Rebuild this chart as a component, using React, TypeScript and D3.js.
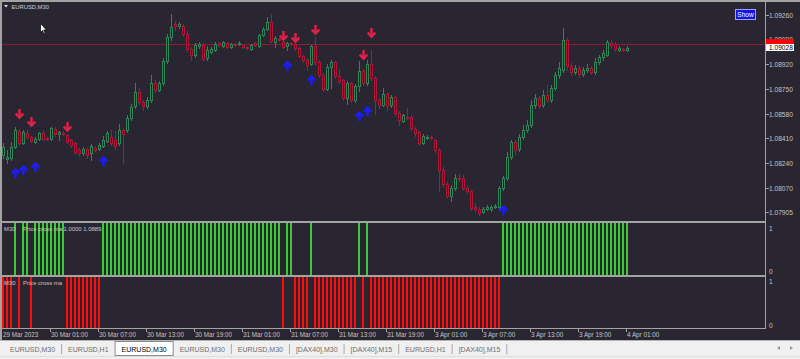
import React, { useEffect, useMemo } from 'react';
import * as d3 from 'd3';

const opens = [
  1.08296,1.08269,1.08276,1.08351,1.08461,1.08379,1.08447,1.08420,1.08385,1.08406,
  1.08447,1.08413,1.08406,1.08475,1.08440,1.08447,1.08434,1.08399,1.08379,1.08330,
  1.08310,1.08337,1.08310,1.08344,1.08337,1.08358,1.08392,1.08420,1.08399,1.08379,
  1.08468,1.08468,1.08550,1.08633,1.08729,1.08660,1.08633,1.08674,1.08791,1.08743,
  1.08791,1.08942,1.09107,1.09196,1.09182,1.09182,1.09127,1.09024,1.08983,1.09045,
  1.09052,1.08963,1.09004,1.09017,1.09066,1.09045,1.09066,1.09038,1.09059,1.09059,
  1.09052,1.09038,1.09024,1.09066,1.09045,1.09121,1.09162,1.09210,1.09072,1.09093,
  1.09072,1.09045,1.09066,1.09059,1.09031,1.08976,1.08949,1.08921,1.09045,1.08935,
  1.08846,1.08750,1.08901,1.08935,1.08839,1.08811,1.08688,1.08791,1.08674,1.08770,
  1.08873,1.08791,1.08921,1.08825,1.08674,1.08640,1.08715,1.08640,1.08695,1.08585,
  1.08530,1.08557,1.08557,1.08475,1.08454,1.08379,1.08413,1.08420,1.08399,1.08330,
  1.08193,1.08097,1.08014,1.08069,1.08138,1.08138,1.08069,1.08049,1.07939,1.07925,
  1.07905,1.07925,1.07925,1.07939,1.07939,1.08069,1.08138,1.08282,1.08385,1.08337,
  1.08420,1.08468,1.08502,1.08640,1.08688,1.08640,1.08708,1.08674,1.08756,1.08846,
  1.08880,1.09086,1.08908,1.08866,1.08894,1.08853,1.08880,1.08894,1.08866,1.08935,
  1.08969,1.08983,1.09066,1.09059,1.09017,1.09024,1.09017,
];
const highs = [
  1.08379,1.08330,1.08385,1.08489,1.08475,1.08468,1.08468,1.08427,1.08420,1.08454,
  1.08461,1.08420,1.08489,1.08489,1.08461,1.08461,1.08440,1.08406,1.08385,1.08344,
  1.08351,1.08344,1.08372,1.08358,1.08379,1.08427,1.08461,1.08468,1.08461,1.08509,
  1.08482,1.08571,1.08647,1.08791,1.08756,1.08674,1.08695,1.08846,1.08811,1.08805,
  1.08963,1.09127,1.09265,1.09217,1.09210,1.09196,1.09148,1.09038,1.09066,1.09072,
  1.09066,1.09045,1.09038,1.09072,1.09072,1.09079,1.09072,1.09066,1.09066,1.09079,
  1.09059,1.09045,1.09059,1.09072,1.09127,1.09176,1.09244,1.09265,1.09114,1.09100,
  1.09086,1.09072,1.09072,1.09066,1.09038,1.08983,1.08963,1.09052,1.09107,1.08949,
  1.08859,1.08921,1.08949,1.08942,1.08887,1.08818,1.08805,1.08798,1.08784,1.08942,
  1.08887,1.08949,1.09017,1.08839,1.08688,1.08756,1.08729,1.08708,1.08701,1.08598,
  1.08578,1.08619,1.08571,1.08489,1.08461,1.08440,1.08434,1.08427,1.08406,1.08344,
  1.08214,1.08111,1.08090,1.08166,1.08166,1.08159,1.08083,1.08056,1.07966,1.07939,
  1.07939,1.07953,1.07953,1.07960,1.08083,1.08152,1.08317,1.08399,1.08399,1.08440,
  1.08502,1.08537,1.08674,1.08715,1.08701,1.08743,1.08777,1.08777,1.08866,1.08935,
  1.09169,1.09100,1.08928,1.08914,1.08908,1.08901,1.08921,1.08908,1.08963,1.08983,
  1.09017,1.09086,1.09086,1.09072,1.09045,1.09031,1.09045,
];
const lows = [
  1.08276,1.08241,1.08262,1.08344,1.08365,1.08372,1.08406,1.08385,1.08379,1.08399,
  1.08399,1.08399,1.08399,1.08427,1.08399,1.08434,1.08379,1.08351,1.08303,1.08289,
  1.08296,1.08276,1.08262,1.08324,1.08330,1.08351,1.08385,1.08365,1.08337,1.08365,
  1.08241,1.08454,1.08537,1.08619,1.08647,1.08605,1.08619,1.08660,1.08729,1.08736,
  1.08777,1.08928,1.09086,1.09155,1.09169,1.09114,1.09011,1.08949,1.08969,1.09031,
  1.08949,1.08949,1.08997,1.09011,1.09045,1.09038,1.09031,1.09031,1.09045,1.09052,
  1.09031,1.09024,1.09017,1.09045,1.09038,1.09114,1.09155,1.09072,1.09038,1.09079,
  1.09031,1.09017,1.09052,1.09017,1.08969,1.08935,1.08880,1.08914,1.08914,1.08832,
  1.08736,1.08743,1.08756,1.08825,1.08791,1.08674,1.08647,1.08660,1.08660,1.08736,
  1.08777,1.08777,1.08811,1.08578,1.08619,1.08633,1.08605,1.08626,1.08571,1.08502,
  1.08523,1.08543,1.08468,1.08427,1.08365,1.08372,1.08406,1.08406,1.08317,1.08049,
  1.08076,1.08001,1.07980,1.08056,1.08118,1.08056,1.08035,1.07918,1.07911,1.07884,
  1.07898,1.07918,1.07911,1.07932,1.07918,1.08056,1.08124,1.08269,1.08303,1.08324,
  1.08406,1.08454,1.08489,1.08619,1.08619,1.08626,1.08660,1.08660,1.08743,1.08825,
  1.08866,1.08880,1.08846,1.08853,1.08832,1.08839,1.08866,1.08853,1.08853,1.08921,
  1.08949,1.08976,1.09031,1.09011,1.09011,1.09011,1.09011,
];
const closes = [
  1.08351,1.08282,1.08351,1.08468,1.08379,1.08454,1.08420,1.08392,1.08406,1.08447,
  1.08406,1.08406,1.08482,1.08440,1.08454,1.08440,1.08385,1.08365,1.08317,1.08310,
  1.08337,1.08296,1.08358,1.08330,1.08365,1.08399,1.08447,1.08379,1.08358,1.08468,
  1.08440,1.08550,1.08626,1.08729,1.08660,1.08633,1.08674,1.08791,1.08743,1.08791,
  1.08942,1.09107,1.09176,1.09182,1.09196,1.09127,1.09024,1.08983,1.09052,1.09059,
  1.08956,1.09017,1.09024,1.09059,1.09052,1.09072,1.09038,1.09059,1.09052,1.09066,
  1.09038,1.09031,1.09052,1.09052,1.09121,1.09162,1.09210,1.09079,1.09100,1.09086,
  1.09038,1.09066,1.09059,1.09031,1.08976,1.08949,1.08914,1.09045,1.08935,1.08846,
  1.08750,1.08901,1.08935,1.08839,1.08805,1.08688,1.08791,1.08674,1.08770,1.08873,
  1.08791,1.08921,1.08825,1.08674,1.08640,1.08715,1.08633,1.08695,1.08585,1.08537,
  1.08571,1.08550,1.08482,1.08447,1.08379,1.08427,1.08420,1.08413,1.08330,1.08193,
  1.08097,1.08014,1.08069,1.08138,1.08131,1.08069,1.08049,1.07932,1.07925,1.07898,
  1.07925,1.07939,1.07939,1.07946,1.08069,1.08138,1.08282,1.08385,1.08330,1.08420,
  1.08468,1.08502,1.08640,1.08688,1.08633,1.08708,1.08674,1.08756,1.08846,1.08894,
  1.09086,1.08908,1.08866,1.08894,1.08853,1.08880,1.08894,1.08866,1.08935,1.08969,
  1.08997,1.09072,1.09052,1.09024,1.09031,1.09017,1.09028,
];
// 1 = price above MA (green panel), 0 = below (red panel)
const signal = [
  0,0,0,1,0,1,1,0,1,1,
  1,1,1,1,1,1,0,0,0,0,
  0,0,0,0,0,1,1,1,1,1,
  1,1,1,1,1,1,1,1,1,1,
  1,1,1,1,1,1,1,1,1,1,
  1,1,1,1,1,1,1,1,1,1,
  1,1,1,1,1,1,1,1,1,1,
  0,1,1,0,0,0,0,1,0,0,
  0,0,0,0,0,0,0,0,0,1,
  0,1,0,0,0,0,0,0,0,0,
  0,0,0,0,0,0,0,0,0,0,
  0,0,0,0,0,0,0,0,0,0,
  0,0,0,0,0,1,1,1,1,1,
  1,1,1,1,1,1,1,1,1,1,
  1,1,1,1,1,1,1,1,1,1,
  1,1,1,1,1,1,1,
];
const buyArrowBars = [3, 5, 8, 25, 71, 77, 89, 91, 125];
const buyArrowPrices = [1.08173, 1.08193, 1.08214, 1.08255, 1.08908, 1.08811, 1.08564, 1.08598, 1.07918];
const sellArrowBars = [4, 7, 16, 70, 73, 78, 90, 92];
const sellArrowPrices = [1.08578, 1.08523, 1.08489, 1.09114, 1.09100, 1.09155, 1.08983, 1.09134];

const priceTicks = [1.09260, 1.09090, 1.08920, 1.08750, 1.08580, 1.08410, 1.08240, 1.08070, 1.07905];
const timeLabels = [
  '29 Mar 2023', '30 Mar 01:00', '30 Mar 07:00', '30 Mar 13:00', '30 Mar 19:00',
  '31 Mar 01:00', '31 Mar 07:00', '31 Mar 13:00', '31 Mar 19:00', '3 Apr 01:00',
  '3 Apr 07:00', '3 Apr 13:00', '3 Apr 19:00', '4 Apr 01:00',
];
const barsPerLabel = 12;
const tabLabels = ['EURUSD,M30', 'EURUSD,H1', 'EURUSD,M30', 'EURUSD,M30', 'EURUSD,M30', '[DAX40],M30', '[DAX40],M15', 'EURUSD,H1', '[DAX40],M15'];
const activeTab = 2;
const hLinePrice = 1.09059;
const bidPrice = 1.09028;
const symbolTitle = 'EURUSD,M30';
const panelLabel1 = 'Price cross ma 1.0000 1.0889';
const panelLabel2 = 'Price cross ma';

const FONT = "'Liberation Sans', Arial, sans-serif";
const BG = '#2a2631';
const FRAME = '#a3a3a3';
const AXIS_TEXT = '#c4c4c4';
const BULL_STROKE = '#2c8656';
const BULL_FILL = '#11291d';
const BEAR_STROKE = '#b01539';
const BEAR_FILL = '#3d0c19';
const SELL_COLOR = '#e2204a';
const BUY_COLOR = '#1c1cff';

function Arrow({ cx, cy, up, color }: { cx: number; cy: number; up: boolean; color: string }) {
  const s = up ? 1 : -1;
  return (
    <g stroke={color} strokeWidth={2.4} fill="none" strokeLinejoin="miter">
      <path d={`M${cx},${cy + 5 * s} L${cx},${cy - 3.6 * s}`} />
      <path d={`M${cx - 3.8},${cy + 0.4 * s} L${cx},${cy - 3.6 * s} L${cx + 3.8},${cy + 0.4 * s}`} />
    </g>
  );
}

export default function App() {
  useEffect(() => {
    document.body.style.margin = '0';
    document.body.style.background = BG;
  }, []);

  const n = closes.length;
  const x = d3.scaleLinear().domain([0, n - 1]).range([3, 3 + 4 * (n - 1)]);
  const y = d3.scaleLinear().domain([1.07905, 1.09260]).range([212, 14.7]);
  const yP1 = d3.scaleLinear().domain([0, 1]).range([275, 223]);
  const yP2 = d3.scaleLinear().domain([0, 1]).range([328, 277]);

  const tabs = useMemo(() => {
    let widths: number[];
    try {
      const ctx = document.createElement('canvas').getContext('2d')!;
      ctx.font = `7px ${FONT}`;
      widths = tabLabels.map((t) => ctx.measureText(t).width);
    } catch (e) {
      widths = tabLabels.map((t) => t.length * 4.4);
    }
    let left = 3;
    return tabLabels.map((t, i) => {
      const w = widths[i] + 13;
      const r = { label: t, left, width: w };
      left += w;
      return r;
    });
  }, []);

  const plotRight = 765;

  return (
    <svg width={800} height={359} style={{ position: 'absolute', left: 0, top: 0, display: 'block' }} fontFamily={FONT}>
      <rect x={0} y={0} width={800} height={359} fill={BG} />
      <defs>
        <clipPath id="mainclip">
          <rect x={2} y={2} width={plotRight - 2} height={219} />
        </clipPath>
      </defs>

      {/* frame */}
      <rect x={0} y={0} width={800} height={2} fill={FRAME} />
      <rect x={0} y={0} width={2} height={340} fill={FRAME} />
      <rect x={plotRight} y={2} width={1} height={327} fill={FRAME} />
      <rect x={0} y={328} width={plotRight + 1} height={1} fill={FRAME} />
      <rect x={2} y={221} width={plotRight - 2} height={2} fill={FRAME} />
      <rect x={2} y={275} width={plotRight - 2} height={2} fill={FRAME} />

      {/* horizontal price line */}
      <line x1={2} x2={plotRight} y1={Math.round(y(hLinePrice)) + 0.5} y2={Math.round(y(hLinePrice)) + 0.5} stroke="#901a2e" strokeWidth={1} />

      {/* candles */}
      <g clipPath="url(#mainclip)">
        {closes.map((c, i) => {
          const o = opens[i];
          const cx = Math.round(x(i));
          const bull = c >= o;
          const top = Math.round(y(Math.max(o, c)));
          const bot = Math.round(y(Math.min(o, c)));
          const hi = Math.round(y(highs[i]));
          const lo = Math.round(y(lows[i]));
          const stroke = bull ? BULL_STROKE : BEAR_STROKE;
          return (
            <g key={i}>
              <line x1={cx + 0.5} x2={cx + 0.5} y1={hi} y2={lo + 1} stroke={stroke} strokeWidth={1} />
              <rect x={cx - 0.5} y={top + 0.5} width={2} height={Math.max(bot - top, 1)} fill={bull ? BULL_FILL : BEAR_FILL} stroke={stroke} strokeWidth={1} />
            </g>
          );
        })}
        {sellArrowBars.map((b, k) => (
          <Arrow key={'s' + k} cx={Math.round(x(b)) + 0.5} cy={y(sellArrowPrices[k])} up={false} color={SELL_COLOR} />
        ))}
        {buyArrowBars.map((b, k) => (
          <Arrow key={'b' + k} cx={Math.round(x(b)) + 0.5} cy={y(buyArrowPrices[k])} up={true} color={BUY_COLOR} />
        ))}
      </g>

      {/* indicator panels */}
      {signal.map((s, i) => {
        const cx = Math.round(x(i));
        return s === 1 ? (
          <rect key={'g' + i} x={cx - 1} y={yP1(1)} width={2} height={yP1(0) - yP1(1)} fill="#35cc35" />
        ) : (
          <rect key={'r' + i} x={cx - 1} y={yP2(1)} width={2} height={yP2(0) - yP2(1)} fill="#ff0d0d" />
        );
      })}

      {/* right price axis */}
      {priceTicks.map((p, i) => {
        const yy = Math.round(y(p)) + 0.5;
        return (
          <g key={'pt' + i}>
            <line x1={plotRight + 1} x2={plotRight + 4} y1={yy} y2={yy} stroke={FRAME} />
            <text x={769} y={yy + 2.4} fontSize={6.6} fill={AXIS_TEXT}>{p.toFixed(5)}</text>
          </g>
        );
      })}
      {/* price labels: horizontal line marker (covered) and current bid */}
      <rect x={766} y={39} width={28} height={5.5} fill="#ff0000" />
      <rect x={766} y={44} width={28} height={7} fill="#ffffff" />
      <text x={769} y={50} fontSize={6.6} fill="#000000">{bidPrice.toFixed(5)}</text>

      {/* panel scales */}
      <text x={769} y={230.5} fontSize={6.6} fill={AXIS_TEXT}>1</text>
      <text x={769} y={274} fontSize={6.6} fill={AXIS_TEXT}>0</text>
      <text x={769} y={284} fontSize={6.6} fill={AXIS_TEXT}>1</text>
      <text x={769} y={327.5} fontSize={6.6} fill={AXIS_TEXT}>0</text>

      {/* panel labels */}
      <text x={4} y={231} fontSize={5.9} fill="#c8c8c8">M30</text>
      <text x={23} y={231} fontSize={5.9} fill="#c8c8c8">{panelLabel1}</text>
      <text x={4} y={284.5} fontSize={5.9} fill="#c8c8c8">M30</text>
      <text x={23} y={284.5} fontSize={5.9} fill="#c8c8c8">{panelLabel2}</text>

      {/* time axis */}
      {timeLabels.map((t, k) => {
        const xx = Math.round(x(k * barsPerLabel));
        return (
          <g key={'tl' + k}>
            {k > 0 && <line x1={xx - 0.5} x2={xx - 0.5} y1={329} y2={332} stroke={FRAME} />}
            <text x={k === 0 ? 3 : xx} y={337} fontSize={6.3} fill={AXIS_TEXT}>{t}</text>
          </g>
        );
      })}

      {/* title */}
      <path d="M4,5 L8,5 L6,7.5 Z" fill="#e0e0e0" />
      <text x={11.5} y={9} fontSize={5.8} fill="#d0d0d0">{symbolTitle}</text>

      {/* Show button */}
      <rect x={735.5} y={9.5} width={20} height={10} fill="#1515e8" stroke="#a0a0ff" strokeWidth={1} />
      <text x={745.5} y={17} fontSize={6.5} fill="#ffffff" textAnchor="middle">Show</text>

      {/* mouse cursor */}
      <path d="M40.5,23.5 L40.5,32.5 L42.5,30.5 L44,33.8 L45.3,33.2 L43.8,30 L46.5,30 Z" fill="#ffffff" stroke="#000000" strokeWidth={0.7} />

      {/* tab bar */}
      <rect x={0} y={340} width={800} height={19} fill="#f0f0f0" />
      <line x1={0} x2={800} y1={340.5} y2={340.5} stroke="#b4b4b4" />
      <line x1={0} x2={800} y1={356.5} y2={356.5} stroke="#dcdcdc" />
      {tabs.map((t, i) => (
        <g key={'tab' + i}>
          {i === activeTab ? (
            <rect x={t.left + 0.5} y={341.5} width={t.width} height={14} fill="#ffffff" stroke="#8c8c8c" />
          ) : (
            i !== activeTab - 1 && <line x1={t.left + t.width + 0.5} x2={t.left + t.width + 0.5} y1={344} y2={354} stroke="#a8a8a8" />
          )}
          <text x={t.left + t.width / 2 + 0.5} y={351.5} fontSize={7} textAnchor="middle" fill={i === activeTab ? '#000000' : '#6e6e6e'}>{t.label}</text>
        </g>
      ))}
      <path d="M777,348 L780,346 L780,350 Z" fill="#9a9a9a" />
      <path d="M793,348 L790,346 L790,350 Z" fill="#9a9a9a" />
    </svg>
  );
}
